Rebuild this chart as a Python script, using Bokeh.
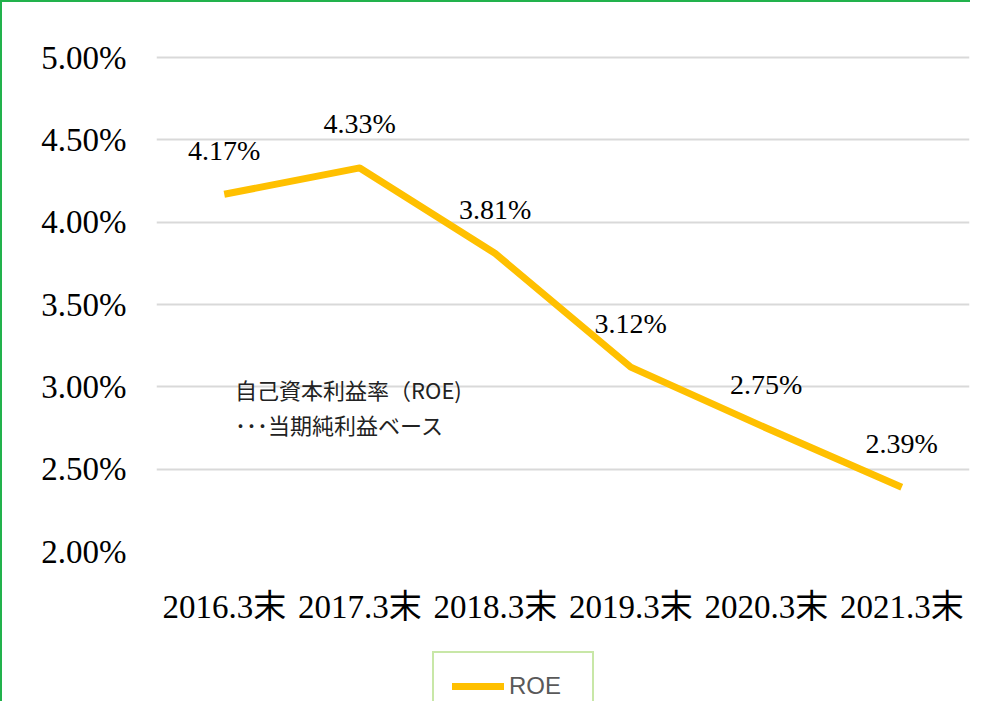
from bokeh.plotting import figure
from bokeh.layouts import column
from bokeh.models import Range1d, FactorRange, PrintfTickFormatter, FixedTicker, Legend, LegendItem
from bokeh.core.properties import value
from bokeh.embed import file_html
from bokeh.resources import INLINE

categories = ["2016.3末", "2017.3末", "2018.3末", "2019.3末", "2020.3末", "2021.3末"]
roe = [4.17, 4.33, 3.81, 3.12, 2.75, 2.39]
labels = ["4.17%", "4.33%", "3.81%", "3.12%", "2.75%", "2.39%"]
y_ticks = [2.0, 2.5, 3.0, 3.5, 4.0, 4.5, 5.0]
series_name = "ROE"
note_lines = ["自己資本利益率（ROE)", "･･･当期純利益ベース"]

SERIF = "'Liberation Serif', 'Noto Sans CJK JP'"
LINE_COLOR = "#FFC000"
FRAME_GREEN = "#22b24c"

p = figure(x_range=FactorRange(factors=categories, range_padding=0),
           y_range=Range1d(2.0, 5.025),
           frame_width=811, frame_height=496, output_backend="svg", toolbar_location=None,
           min_border_left=154, min_border_right=3, min_border_top=51, min_border_bottom=83)
p.styles = {"border-left": f"2px solid {FRAME_GREEN}", "border-top": f"2px solid {FRAME_GREEN}"}
p.outline_line_color = None
p.background_fill_color = "white"
p.border_fill_color = "white"

p.xgrid.grid_line_color = None
p.ygrid.grid_line_color = "#d9d9d9"
p.ygrid.grid_line_width = 2

p.yaxis.ticker = FixedTicker(ticks=y_ticks)
p.yaxis.formatter = PrintfTickFormatter(format="%.2f%%")
for ax in (p.xaxis[0], p.yaxis[0]):
    ax.axis_line_color = None
    ax.major_tick_line_color = None
    ax.minor_tick_line_color = None
    ax.major_tick_out = 0
    ax.major_tick_in = 0
    ax.major_label_text_font = SERIF
    ax.major_label_text_font_size = "33px"
    ax.major_label_text_color = "black"
p.yaxis.major_label_standoff = 30
p.xaxis.major_label_standoff = 37

p.line(categories, roe, line_color=LINE_COLOR, line_width=7, line_join="round")

p.text(x=categories, y=roe, text=labels, y_offset=-44, text_align="center",
       text_baseline="middle", text_font=value("Liberation Serif"),
       text_font_size="28px", text_color="black")

p.text(x=[("2016.3末", 0.08), ("2016.3末", 0.08)], y=[2.99, 2.775], text=note_lines,
       text_align="left", text_baseline="middle", text_font=value("Noto Sans CJK JP"),
       text_font_size="22px", text_color="#222222")

# legend strip below the chart (same frame geometry as the chart)
p2 = figure(x_range=FactorRange(factors=categories, range_padding=0), y_range=Range1d(0, 1),
            frame_width=811, frame_height=69, output_backend="svg", toolbar_location=None,
            min_border_left=154, min_border_right=3, min_border_top=0, min_border_bottom=0)
p2.styles = {"border-left": f"2px solid {FRAME_GREEN}"}
p2.axis.visible = False
p2.grid.visible = False
p2.outline_line_color = None
p2.background_fill_color = "white"
p2.border_fill_color = "white"
# same series; its values lie outside this strip's y range, so only its legend entry shows
r2 = p2.line(categories, roe, line_color=LINE_COLOR, line_width=7, line_cap="round")

legend = Legend(items=[LegendItem(label=series_name, renderers=[r2])],
                location=(276, -20), orientation="horizontal",
                border_line_color="#92d050", border_line_width=2,
                background_fill_color="white", background_fill_alpha=1,
                padding=18, spacing=0, margin=0,
                glyph_width=52, glyph_height=30, label_standoff=5, label_width=65,
                label_text_font="Liberation Sans", label_text_font_size="24px",
                label_text_color="#595959")
p2.add_layout(legend, "center")

layout = column(p, p2, spacing=0)
open("out.html", "w").write(file_html(layout, INLINE))
